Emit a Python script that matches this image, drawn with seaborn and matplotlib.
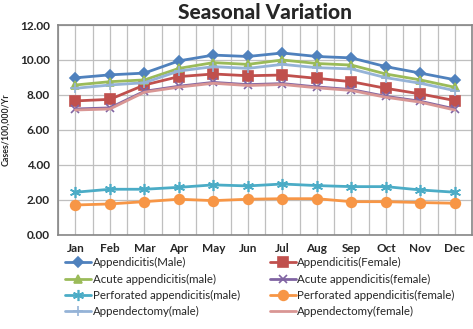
import numpy as np
import pandas as pd
import matplotlib
matplotlib.use("Agg")
import matplotlib.pyplot as plt
import seaborn as sns

# ------------------------------
# Data
# ------------------------------
months = ["Jan", "Feb", "Mar", "Apr", "May", "Jun",
          "Jul", "Aug", "Sep", "Oct", "Nov", "Dec"]

appendicitis_male = [8.98, 9.15, 9.25, 9.95, 10.28, 10.2, 10.4, 10.2, 10.12, 9.62, 9.25, 8.87]
appendicitis_female = [7.66, 7.75, 8.57, 9.05, 9.2, 9.1, 9.14, 8.95, 8.76, 8.38, 8.06, 7.68]
acute_male = [8.57, 8.76, 8.86, 9.52, 9.85, 9.75, 10.0, 9.8, 9.71, 9.2, 8.86, 8.44]
acute_female = [7.2, 7.26, 8.21, 8.5, 8.72, 8.59, 8.65, 8.46, 8.31, 7.92, 7.64, 7.2]
perforated_male = [2.44, 2.61, 2.61, 2.72, 2.86, 2.8, 2.91, 2.82, 2.76, 2.76, 2.57, 2.44]
perforated_female = [1.71, 1.77, 1.9, 2.04, 1.96, 2.04, 2.07, 2.07, 1.9, 1.9, 1.85, 1.81]
appendectomy_male = [8.38, 8.57, 8.7, 9.37, 9.62, 9.52, 9.75, 9.56, 9.49, 8.99, 8.67, 8.25]
appendectomy_female = [7.14, 7.2, 8.16, 8.45, 8.67, 8.54, 8.6, 8.41, 8.26, 7.87, 7.59, 7.14]

series = [
    ("Appendicitis(Male)", appendicitis_male, "#4F81BD", "D", 5),
    ("Appendicitis(Female)", appendicitis_female, "#C0504D", "s", 7),
    ("Acute appendicitis(male)", acute_male, "#9BBB59", "^", 6),
    ("Acute appendicitis(female)", acute_female, "#8064A2", "x", 6),
    ("Perforated appendicitis(male)", perforated_male, "#4BACC6", (6, 2, 0), 8),
    ("Perforated appendicitis(female)", perforated_female, "#F79646", "o", 7),
    ("Appendectomy(male)", appendectomy_male, "#95B3D7", "+", 7),
    ("Appendectomy(female)", appendectomy_female, "#D99694", "", 0),
]

sns.set_style("white")
plt.rcParams["font.family"] = ["Lato", "DejaVu Sans"]

fig = plt.figure(figsize=(4.73, 3.29), dpi=100)
ax = fig.add_axes([0.123, 0.286, 0.875, 0.638])

x = np.arange(len(months))
for name, vals, color, marker, ms in series:
    df = pd.DataFrame({"x": x, "y": vals})
    sns.lineplot(data=df, x="x", y="y", ax=ax, color=color, linewidth=2.0,
                 marker=marker if marker else None, markersize=ms,
                 markeredgecolor=color, markeredgewidth=1.2, label=name)

ax.set_xlim(-0.5, 11.5)
ax.set_ylim(0, 12)
ax.set_yticks(np.arange(0, 12.01, 2))
ax.set_yticklabels([f"{v:.2f}" for v in np.arange(0, 12.01, 2)])
ax.set_xticks(x)
ax.set_xticklabels(months)
ax.set_xticks(np.arange(-0.5, 11.6, 1), minor=True)
ax.grid(True, which="both", axis="x", color="#BFBFBF", linewidth=0.9)
ax.grid(True, which="major", axis="y", color="#BFBFBF", linewidth=0.9)
ax.set_axisbelow(True)
for sp in ax.spines.values():
    sp.set_color("#868686")
    sp.set_linewidth(1.2)
ax.tick_params(axis="both", which="both", length=0, labelsize=8.5, pad=6)
for lab in ax.get_xticklabels() + ax.get_yticklabels():
    lab.set_fontweight("bold")

ax.set_xlabel("")
ax.set_ylabel("Cases/100,000/Yr", fontsize=6.3, fontweight="bold", labelpad=7)
ax.set_title("Seasonal Variation", fontsize=15, fontweight="black", pad=4)

h, l = ax.get_legend_handles_labels()
order = [0, 2, 4, 6, 1, 3, 5, 7]
ax.legend([h[i] for i in order], [l[i] for i in order], ncol=2,
          loc="upper left", bbox_to_anchor=(0.005, -0.085), frameon=False,
          fontsize=8.3, handlelength=2.3, handletextpad=0.1,
          columnspacing=2.6, labelspacing=0.45, borderaxespad=0)

fig.savefig("out.png", dpi=100)
